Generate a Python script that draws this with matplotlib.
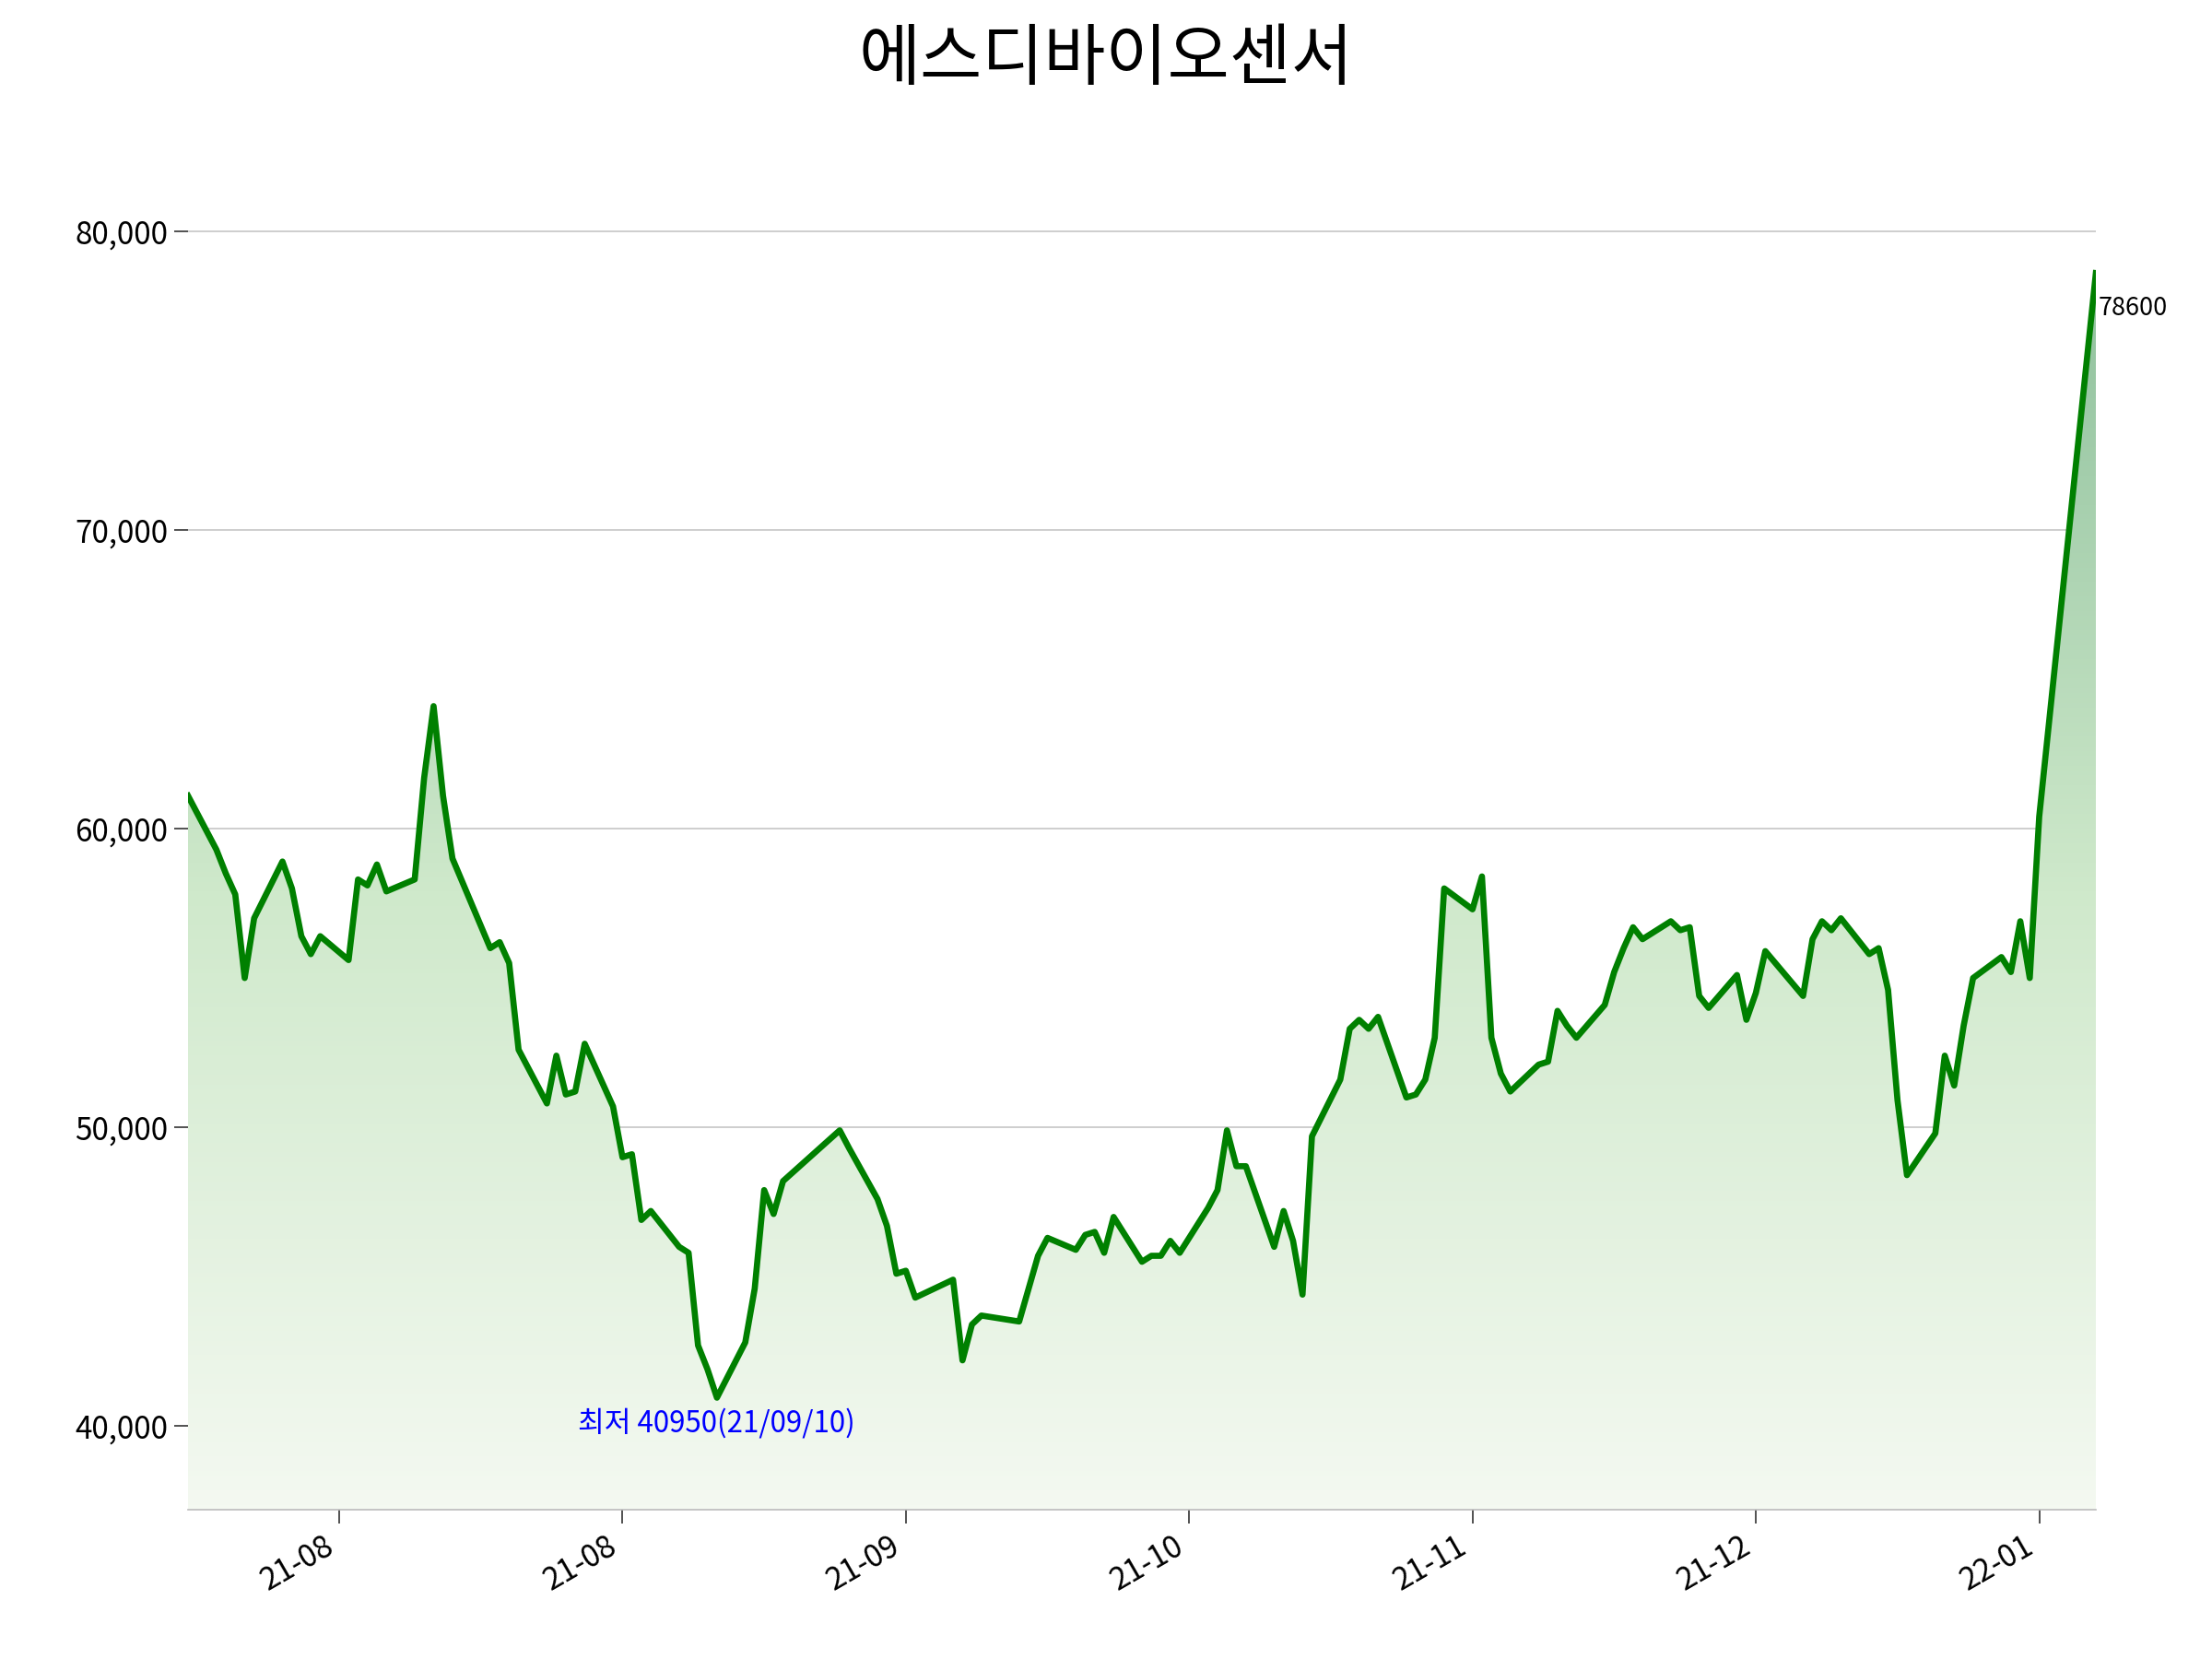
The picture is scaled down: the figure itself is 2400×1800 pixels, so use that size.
import matplotlib
matplotlib.use('Agg')
import matplotlib.pyplot as plt
import matplotlib.dates as mdates
from matplotlib.colors import LinearSegmentedColormap
from matplotlib.patches import Polygon
import numpy as np
import pandas as pd

plt.rcParams['font.family'] = ['Noto Sans CJK KR', 'DejaVu Sans']

title = '에스디바이오센서'

dates = ['2021-07-16', '2021-07-19', '2021-07-20', '2021-07-21', '2021-07-22', '2021-07-23',
         '2021-07-26', '2021-07-27', '2021-07-28', '2021-07-29', '2021-07-30',
         '2021-08-02', '2021-08-03', '2021-08-04', '2021-08-05', '2021-08-06',
         '2021-08-09', '2021-08-10', '2021-08-11', '2021-08-12', '2021-08-13',
         '2021-08-17', '2021-08-18', '2021-08-19', '2021-08-20',
         '2021-08-23', '2021-08-24', '2021-08-25', '2021-08-26', '2021-08-27',
         '2021-08-30', '2021-08-31', '2021-09-01', '2021-09-02', '2021-09-03',
         '2021-09-06', '2021-09-07', '2021-09-08', '2021-09-09', '2021-09-10',
         '2021-09-13', '2021-09-14', '2021-09-15', '2021-09-16', '2021-09-17',
         '2021-09-23', '2021-09-24',
         '2021-09-27', '2021-09-28', '2021-09-29', '2021-09-30', '2021-10-01',
         '2021-10-05', '2021-10-06', '2021-10-07', '2021-10-08',
         '2021-10-12', '2021-10-13', '2021-10-14', '2021-10-15',
         '2021-10-18', '2021-10-19', '2021-10-20', '2021-10-21', '2021-10-22',
         '2021-10-25', '2021-10-26', '2021-10-27', '2021-10-28', '2021-10-29',
         '2021-11-01', '2021-11-02', '2021-11-03', '2021-11-04', '2021-11-05',
         '2021-11-08', '2021-11-09', '2021-11-10', '2021-11-11', '2021-11-12',
         '2021-11-15', '2021-11-16', '2021-11-17', '2021-11-18', '2021-11-19',
         '2021-11-22', '2021-11-23', '2021-11-24', '2021-11-25', '2021-11-26',
         '2021-11-29', '2021-11-30', '2021-12-01', '2021-12-02', '2021-12-03',
         '2021-12-06', '2021-12-07', '2021-12-08', '2021-12-09', '2021-12-10',
         '2021-12-13', '2021-12-14', '2021-12-15', '2021-12-16', '2021-12-17',
         '2021-12-20', '2021-12-21', '2021-12-22', '2021-12-23', '2021-12-24',
         '2021-12-27', '2021-12-28', '2021-12-29', '2021-12-30',
         '2022-01-03', '2022-01-04', '2022-01-05', '2022-01-06', '2022-01-07',
         '2022-01-10', '2022-01-11', '2022-01-12', '2022-01-13', '2022-01-14',
         '2022-01-17', '2022-01-18', '2022-01-19', '2022-01-20', '2022-01-21',
         '2022-01-24', '2022-01-25', '2022-01-26', '2022-01-27', '2022-01-28',
         '2022-02-03']

prices = [61100, 59300, 58500, 57800, 55000, 57000,
          58900, 58000, 56400, 55800, 56400,
          55600, 58300, 58100, 58800, 57900,
          58300, 61700, 64100, 61100, 59000,
          56000, 56200, 55500, 52600,
          50800, 52400, 51100, 51200, 52800,
          50700, 49000, 49100, 46900, 47200,
          46000, 45800, 42700, 41900, 40950,
          42800, 44600, 47900, 47100, 48200,
          49900, 49300,
          47600, 46700, 45100, 45200, 44300,
          44900, 42200, 43400, 43700,
          43500, 44600, 45700, 46300,
          45900, 46400, 46500, 45800, 47000,
          45500, 45700, 45700, 46200, 45800,
          47300, 47900, 49900, 48700, 48700,
          46000, 47200, 46200, 44400, 49700,
          51600, 53300, 53600, 53300, 53700,
          51000, 51100, 51600, 53000, 58000,
          57300, 58400, 53000, 51800, 51200,
          52100, 52200, 53900, 53400, 53000,
          54100, 55200, 56000, 56700, 56300,
          56900, 56600, 56700, 54400, 54000,
          55100, 53600, 54500, 55900,
          54400, 56300, 56900, 56600, 57000,
          55800, 56000, 54600, 50900, 48400,
          49800, 52400, 51400, 53400, 55000,
          55700, 55200, 56900, 55000, 60400,
          78600]

tick_dates = ['2021-08-01', '2021-08-31', '2021-09-30', '2021-10-30',
              '2021-11-29', '2021-12-29', '2022-01-28']
low_label = '최저 40950(21/09/10)'

x = pd.to_datetime(dates)
xn = mdates.date2num(x)
y = np.array(prices)

fig = plt.figure(figsize=(16, 12), dpi=150)
ax = fig.add_axes([0.085, 0.09, 0.8625, 0.785])

ymin, ymax = 37200, 80800
ax.set_xlim(xn[0], xn[-1])
ax.set_ylim(ymin, ymax)

# gradient fill under the line
cmap = LinearSegmentedColormap.from_list('g', ['#f4f9f1', '#cfe9cb', '#8fc19d'])
grad = np.linspace(0, 1, 256).reshape(-1, 1)
im = ax.imshow(grad, aspect='auto', cmap=cmap, origin='lower',
               extent=[xn[0], xn[-1], ymin, y.max()], zorder=1)
poly = Polygon(np.column_stack([np.r_[xn[0], xn, xn[-1]], np.r_[ymin, y, ymin]]),
               closed=True, transform=ax.transData, facecolor='none', edgecolor='none')
ax.add_patch(poly)
im.set_clip_path(poly)

ax.plot(xn, y, color='green', lw=3.2, zorder=3)

ax.set_yticks([40000, 50000, 60000, 70000, 80000])
ax.yaxis.set_major_formatter(matplotlib.ticker.FuncFormatter(lambda v, p: f'{int(v):,}'))
ax.grid(axis='y', color='#cccccc', lw=0.9, zorder=0)
ax.set_axisbelow(True)

ax.set_xticks(mdates.date2num(pd.to_datetime(tick_dates)))
ax.xaxis.set_major_formatter(mdates.DateFormatter('%y-%m'))
plt.setp(ax.get_xticklabels(), rotation=30, ha='right')
ax.tick_params(axis='both', labelsize=16, colors='#333333', length=7, width=0.8)
for lbl in ax.get_xticklabels() + ax.get_yticklabels():
    lbl.set_color('black')

for s in ['top', 'right', 'left']:
    ax.spines[s].set_visible(False)
ax.spines['bottom'].set_color('#bbbbbb')

imin = int(np.argmin(y))
ax.text(xn[imin], y[imin] - 350, low_label, color='blue', fontsize=15,
        ha='center', va='top', zorder=4)
ax.text(xn[-1] + 0.3, y[-1] - 750, str(prices[-1]), fontsize=13,
        ha='left', va='top', zorder=4)

fig.suptitle(title, fontsize=35, y=0.985)

fig.savefig('out.png', dpi=150)
